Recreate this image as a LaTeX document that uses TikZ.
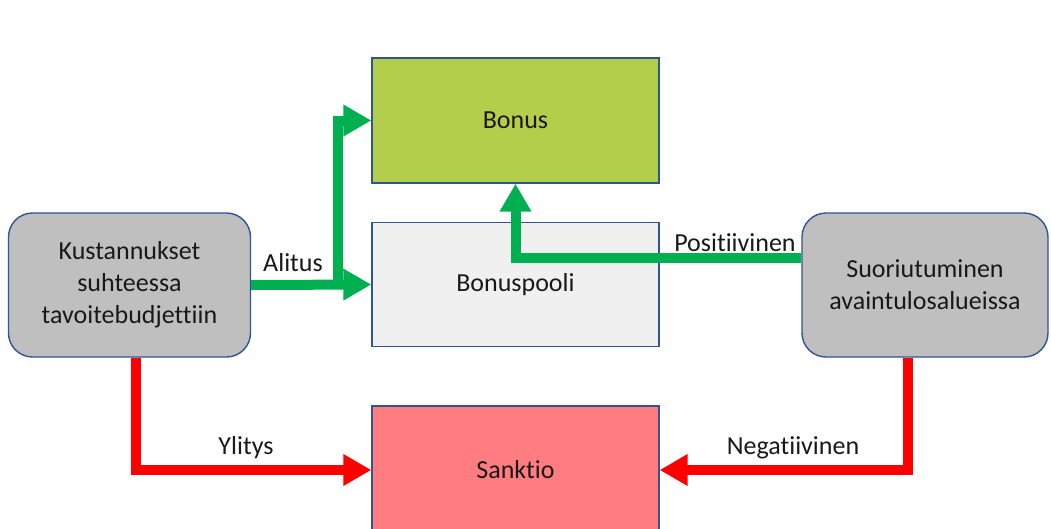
\documentclass[tikz,border=0pt]{standalone}
\usepackage{fontspec}
\setmainfont{Carlito}[Ligatures=NoCommon]
\usetikzlibrary{arrows.meta}
\definecolor{edgeblue}{HTML}{2F5597}
\definecolor{bonusgreen}{HTML}{B2CE4B}
\definecolor{poolgray}{HTML}{F0F0F0}
\definecolor{sanctionred}{HTML}{FF7C80}
\definecolor{boxgray}{HTML}{BFBFBF}
\definecolor{flowgreen}{HTML}{00B050}
\definecolor{flowred}{HTML}{FF0000}
\begin{document}
\begin{tikzpicture}[x=1pt,y=-1pt,
  every node/.style={font=\fontsize{26}{32}\selectfont, text=black!90},
  outcome/.style={draw=edgeblue, line width=1.4pt, minimum width=287pt, inner sep=0pt},
  driver/.style={draw=edgeblue, line width=1.4pt, fill=boxgray, rounded corners=24pt,
    minimum height=144pt, inner sep=0pt, align=center},
  flow/.style={line width=10pt, -{Triangle[length=28pt,width=30pt]}},
  gflow/.style={flow, draw=flowgreen},
  rflow/.style={flow, draw=flowred},
  lbl/.style={inner sep=0pt}]
\useasboundingbox[fill=white] (0,0) rectangle (1051,528);
\begin{scope}
\clip (0,0) rectangle (1051,528);
% outcome boxes
\node[outcome, fill=bonusgreen, minimum height=125pt] (B) at (515.5,120.5) {Bonus};
\node[outcome, fill=poolgray, minimum height=124pt] (P) at (515.5,284.5) {Bonuspooli};
\node[outcome, fill=sanctionred, minimum height=128pt] (S) at (515.5,470) {Sanktio};
% driver boxes
\node[driver, minimum width=242pt] (L) at (129.5,285) {Kustannukset\\suhteessa\\tavoitebudjettiin};
\node[driver, minimum width=246pt] (R) at (925,285) {Suoriutuminen\\avaintulosalueissa};
% cost flow: under budget
\coordinate (split) at (338,285);
\draw[gflow] (L.east) -- (P.west);
\draw[gflow] (split) |- (B.west);
\node[lbl] (alitus) at (293,263) {Alitus};
% performance: positive
\draw[gflow] ([yshift=27pt]R.west) -| (B.south);
\node[lbl] (pos) at (735,243) {Positiivinen};
% cost flow: over budget
\draw[rflow] ([xshift=6pt]L.south) |- (S.west);
\node[lbl] (ylitys) at (246,448) {Ylitys};
% performance: negative
\draw[rflow] ([xshift=-17pt]R.south) |- (S.east);
\node[lbl] (neg) at (793,448) {Negatiivinen};
\end{scope}
\end{tikzpicture}
\end{document}
